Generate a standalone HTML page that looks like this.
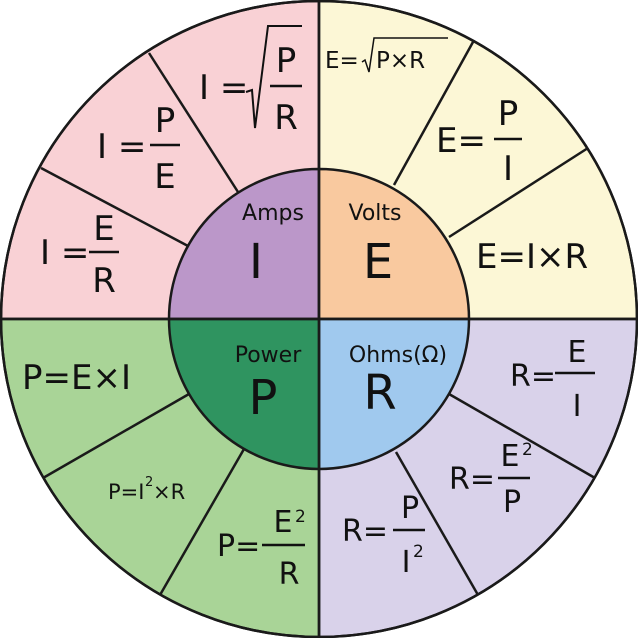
<!DOCTYPE html>
<html><head><meta charset="utf-8"><style>
html,body{margin:0;padding:0;background:#fff;}
svg{display:block;}
text{font-family:"DejaVu Sans","Liberation Sans",sans-serif;fill:#111;}
</style></head><body>
<svg width="638" height="638" viewBox="0 0 638 638" xmlns="http://www.w3.org/2000/svg">
<g stroke="#1a1a1a" stroke-width="2.5">
<path d="M319,319 L1,319 A318,318 0 0 1 319,1 Z" fill="#f9d1d5"/>
<path d="M319,319 L319,1 A318,318 0 0 1 637,319 Z" fill="#fcf7d6"/>
<path d="M319,319 L637,319 A318,318 0 0 1 319,637 Z" fill="#d9d2ea"/>
<path d="M319,319 L319,637 A318,318 0 0 1 1,319 Z" fill="#a9d497"/>
<line x1="188" y1="246" x2="41" y2="168"/>
<line x1="238" y1="192" x2="149" y2="53"/>
<line x1="394" y1="185" x2="473" y2="42"/>
<line x1="449" y1="237" x2="588" y2="148"/>
<line x1="449" y1="394" x2="595" y2="478"/>
<line x1="396" y1="452" x2="478" y2="595"/>
<line x1="244" y1="449" x2="160" y2="595"/>
<line x1="189" y1="394" x2="43" y2="478"/>
<path d="M319,319 L169,319 A150,150 0 0 1 319,169 Z" fill="#bb97c9"/>
<path d="M319,319 L319,169 A150,150 0 0 1 469,319 Z" fill="#f9c99f"/>
<path d="M319,319 L469,319 A150,150 0 0 1 319,469 Z" fill="#a0c9ee"/>
<path d="M319,319 L319,469 A150,150 0 0 1 169,319 Z" fill="#2f9460"/>
<circle cx="319" cy="319" r="318" fill="none"/>
<line x1="0" y1="319" x2="638" y2="319"/>
<line x1="319" y1="0" x2="319" y2="638"/>
</g>
<text x="273" y="220" font-size="22" text-anchor="middle">Amps</text>
<text x="375" y="220" font-size="22" text-anchor="middle">Volts</text>
<text x="268" y="362" font-size="22" text-anchor="middle">Power</text>
<text x="398" y="362" font-size="22" text-anchor="middle">Ohms(Ω)</text>
<text x="256" y="278" font-size="48" text-anchor="middle">I</text>
<text x="378" y="278" font-size="48" text-anchor="middle">E</text>
<text x="263" y="414" font-size="48" text-anchor="middle">P</text>
<text x="380" y="409" font-size="48" text-anchor="middle">R</text>
<g stroke="#111" stroke-width="2.5" fill="none">
<line x1="270" y1="86" x2="302" y2="86"/>
<path d="M246,92 L252,90 L255,128 L268,26 L302,26" stroke-width="2"/>
<line x1="150" y1="145" x2="180" y2="145"/>
<line x1="89" y1="252" x2="119" y2="252"/>
<line x1="494" y1="139" x2="522" y2="139"/>
<line x1="262" y1="545" x2="305" y2="545"/>
<line x1="555" y1="373" x2="595" y2="373"/>
<line x1="498" y1="478" x2="530" y2="478"/>
<line x1="393" y1="530" x2="425" y2="530"/>
<path d="M362,62 L365,60 L369,72 L374,38 L448,38" stroke-width="1.5"/>
</g>
<g font-size="34">
<text x="199" y="99">I =</text>
<text x="286" y="72" text-anchor="middle">P</text>
<text x="286" y="129" text-anchor="middle">R</text>
<text x="97" y="158">I =</text>
<text x="165" y="132" text-anchor="middle">P</text>
<text x="165" y="188" text-anchor="middle">E</text>
<text x="40" y="264">I =</text>
<text x="104" y="240" text-anchor="middle">E</text>
<text x="104" y="292" text-anchor="middle">R</text>
<text x="436" y="152">E=</text>
<text x="508" y="125" text-anchor="middle">P</text>
<text x="508" y="180" text-anchor="middle">I</text>
<text x="476" y="268">E=I×R</text>
<text x="22" y="389">P=E×I</text>
<text x="217" y="556" font-size="30">P=</text>
<text x="283" y="532" text-anchor="middle" font-size="30">E</text>
<text x="295" y="522" font-size="17">2</text>
<text x="289" y="584" text-anchor="middle" font-size="30">R</text>
<text x="510" y="386" font-size="30">R=</text>
<text x="577" y="362" text-anchor="middle" font-size="30">E</text>
<text x="577" y="416" text-anchor="middle" font-size="30">I</text>
<text x="449" y="489" font-size="30">R=</text>
<text x="510" y="466" text-anchor="middle" font-size="30">E</text>
<text x="522" y="455" font-size="17">2</text>
<text x="512" y="512" text-anchor="middle" font-size="30">P</text>
<text x="342" y="541" font-size="30">R=</text>
<text x="410" y="518" text-anchor="middle" font-size="30">P</text>
<text x="406" y="572" text-anchor="middle" font-size="30">I</text>
<text x="413" y="557" font-size="17">2</text>
</g>
<text x="325" y="68" font-size="23">E=</text>
<text x="376" y="68" font-size="23">P×R</text>
<text x="108" y="499" font-size="21">P=I</text>
<text x="145" y="486" font-size="13">2</text>
<text x="153" y="499" font-size="21">×R</text>
</svg>
</body></html>
